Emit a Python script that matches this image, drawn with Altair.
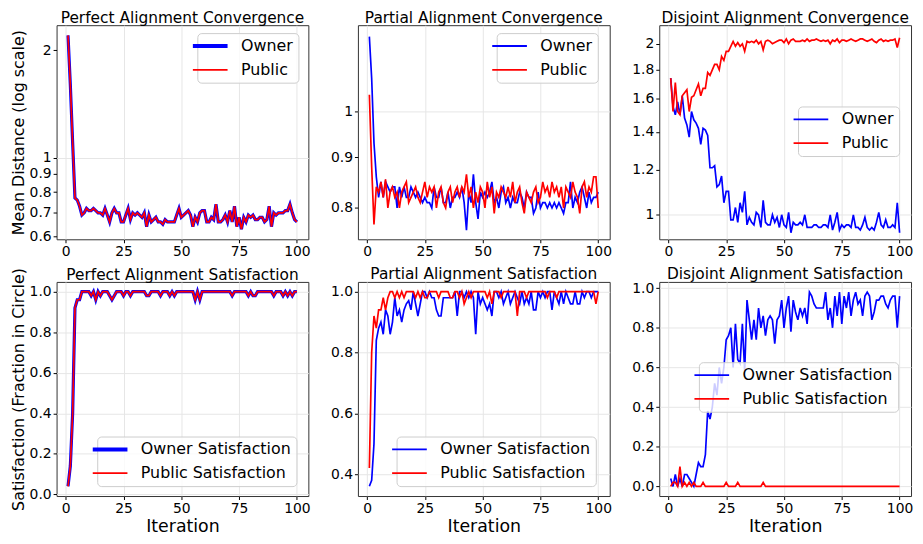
import altair as alt
import pandas as pd

iterations = list(range(1, 101))

# Perfect alignment: owner and public curves coincide
perfect_conv_owner = [
    2.20, 1.60, 1.10, 0.77, 0.76, 0.73, 0.69, 0.70, 0.72, 0.71,
    0.71, 0.72, 0.71, 0.70, 0.70, 0.69, 0.72, 0.69, 0.66, 0.70,
    0.72, 0.70, 0.70, 0.66, 0.66, 0.69, 0.72, 0.67, 0.70, 0.69,
    0.70, 0.69, 0.68, 0.70, 0.64, 0.69, 0.66, 0.67, 0.68, 0.66,
    0.66, 0.65, 0.67, 0.66, 0.66, 0.66, 0.66, 0.69, 0.72, 0.68,
    0.69, 0.70, 0.71, 0.69, 0.64, 0.68, 0.66, 0.70, 0.71, 0.71,
    0.66, 0.66, 0.68, 0.67, 0.74, 0.66, 0.66, 0.67, 0.69, 0.66,
    0.71, 0.66, 0.73, 0.64, 0.68, 0.63, 0.68, 0.66, 0.69, 0.68,
    0.69, 0.67, 0.67, 0.68, 0.68, 0.66, 0.67, 0.73, 0.64, 0.70,
    0.69, 0.70, 0.70, 0.70, 0.71, 0.71, 0.74, 0.70, 0.67, 0.66,
]
perfect_conv_public = [
    2.20, 1.60, 1.10, 0.77, 0.76, 0.73, 0.69, 0.70, 0.72, 0.71,
    0.71, 0.72, 0.71, 0.70, 0.70, 0.69, 0.72, 0.69, 0.66, 0.70,
    0.72, 0.70, 0.70, 0.66, 0.66, 0.69, 0.72, 0.67, 0.70, 0.69,
    0.70, 0.69, 0.68, 0.70, 0.64, 0.69, 0.66, 0.67, 0.68, 0.66,
    0.66, 0.65, 0.67, 0.66, 0.66, 0.66, 0.66, 0.69, 0.72, 0.68,
    0.69, 0.70, 0.71, 0.69, 0.64, 0.68, 0.66, 0.70, 0.71, 0.71,
    0.66, 0.66, 0.68, 0.67, 0.74, 0.66, 0.66, 0.67, 0.69, 0.66,
    0.71, 0.66, 0.73, 0.64, 0.68, 0.63, 0.68, 0.66, 0.69, 0.68,
    0.69, 0.67, 0.67, 0.68, 0.68, 0.66, 0.67, 0.73, 0.64, 0.70,
    0.69, 0.70, 0.70, 0.70, 0.71, 0.71, 0.74, 0.70, 0.67, 0.66,
]
partial_conv_owner = [
    1.19, 1.08, 0.93, 0.86, 0.82, 0.85, 0.82, 0.85, 0.84, 0.83,
    0.84, 0.84, 0.80, 0.84, 0.82, 0.84, 0.82, 0.82, 0.84, 0.83,
    0.82, 0.83, 0.82, 0.81, 0.82, 0.81, 0.81, 0.80, 0.84, 0.82,
    0.82, 0.84, 0.81, 0.81, 0.83, 0.80, 0.82, 0.82, 0.83, 0.82,
    0.84, 0.81, 0.76, 0.83, 0.81, 0.865, 0.81, 0.78, 0.83, 0.82,
    0.83, 0.82, 0.83, 0.85, 0.81, 0.82, 0.80, 0.83, 0.84, 0.81,
    0.82, 0.80, 0.82, 0.81, 0.81, 0.83, 0.82, 0.80, 0.83, 0.82,
    0.82, 0.79, 0.80, 0.83, 0.80, 0.81, 0.81, 0.80, 0.81, 0.80,
    0.81, 0.80, 0.81, 0.80, 0.79, 0.81, 0.81, 0.85, 0.80, 0.82,
    0.81, 0.83, 0.84, 0.82, 0.80, 0.83, 0.81, 0.82, 0.82, 0.83,
]
partial_conv_public = [
    1.04, 0.88, 0.77, 0.84, 0.83, 0.85, 0.82, 0.855, 0.80, 0.83,
    0.84, 0.82, 0.83, 0.80, 0.83, 0.84, 0.85, 0.81, 0.82, 0.83,
    0.84, 0.82, 0.81, 0.83, 0.85, 0.82, 0.84, 0.83, 0.84, 0.80,
    0.83, 0.84, 0.81, 0.80, 0.83, 0.84, 0.81, 0.83, 0.84, 0.82,
    0.84, 0.83, 0.865, 0.82, 0.84, 0.80, 0.83, 0.81, 0.84, 0.83,
    0.80, 0.85, 0.82, 0.84, 0.79, 0.83, 0.82, 0.84, 0.83, 0.82,
    0.84, 0.82, 0.85, 0.81, 0.83, 0.84, 0.81, 0.79, 0.83, 0.82,
    0.81, 0.83, 0.84, 0.81, 0.82, 0.85, 0.83, 0.84, 0.82, 0.85,
    0.83, 0.84, 0.82, 0.84, 0.80, 0.84, 0.83, 0.82, 0.85, 0.83,
    0.82, 0.79, 0.84, 0.85, 0.82, 0.84, 0.83, 0.86, 0.86, 0.80,
]
disjoint_conv_owner = [
    1.74, 1.55, 1.50, 1.58, 1.50, 1.62, 1.48, 1.44, 1.37, 1.52,
    1.47, 1.45, 1.42, 1.33, 1.42, 1.41, 1.38, 1.21, 1.21, 1.22,
    1.12, 1.13, 1.17, 1.05, 1.10, 1.10, 0.98, 0.98, 1.03, 0.97,
    1.05, 1.01, 1.10, 0.96, 0.99, 0.97, 0.96, 1.01, 1.00, 0.95,
    1.06, 0.97, 0.96, 0.96, 1.00, 0.97, 0.99, 0.95, 1.00, 0.96,
    0.95, 1.01, 0.93, 0.97, 0.96, 0.96, 0.97, 0.96, 1.00, 0.95,
    0.95, 0.95, 0.96, 0.96, 0.95, 0.95, 0.96, 0.96, 0.95, 1.00,
    0.94, 0.97, 1.01, 0.94, 0.96, 0.95, 0.96, 0.96, 0.95, 1.00,
    0.95, 0.95, 0.94, 0.96, 0.99, 0.95, 0.94, 0.95, 0.94, 0.97,
    1.01, 0.96, 0.95, 0.98, 0.95, 0.95, 0.96, 0.95, 1.05, 0.93,
]
disjoint_conv_public = [
    1.74, 1.52, 1.71, 1.52, 1.50, 1.62, 1.64, 1.66, 1.52, 1.61,
    1.62, 1.66, 1.70, 1.62, 1.67, 1.67, 1.78, 1.76, 1.80, 1.84,
    1.84, 1.80, 1.90, 1.87, 1.94, 1.94, 1.98, 2.02, 1.98, 2.01,
    1.98, 2.00, 1.94, 2.02, 2.01, 2.02, 2.01, 2.03, 2.00, 2.02,
    1.95, 2.02, 2.03, 2.02, 2.00, 2.01, 2.02, 2.03, 2.03, 2.01,
    2.04, 2.00, 2.03, 2.04, 2.02, 2.02, 2.02, 2.03, 2.02, 2.04,
    2.02, 2.03, 2.03, 2.04, 2.03, 2.02, 2.03, 2.02, 2.03, 2.00,
    2.03, 2.02, 2.04, 2.01, 2.03, 2.03, 2.02, 2.03, 2.04, 2.03,
    2.02, 2.03, 2.04, 2.04, 2.03, 2.02, 2.03, 2.04, 2.02, 2.01,
    2.03, 2.04, 2.02, 2.03, 2.02, 2.03, 2.03, 2.04, 1.97, 2.05,
]
perfect_sat_owner = [
    0.04, 0.14, 0.40, 0.92, 0.96, 0.96, 1.00, 1.00, 1.00, 1.00,
    0.98, 1.00, 0.96, 1.00, 0.98, 1.00, 1.00, 1.00, 0.98, 0.96,
    0.98, 1.00, 1.00, 1.00, 0.98, 1.00, 1.00, 0.98, 1.00, 1.00,
    1.00, 1.00, 1.00, 1.00, 0.98, 0.98, 1.00, 1.00, 1.00, 1.00,
    0.98, 1.00, 1.00, 1.00, 0.98, 1.00, 0.98, 1.00, 1.00, 1.00,
    1.00, 1.00, 1.00, 1.00, 1.00, 0.96, 1.00, 0.96, 1.00, 1.00,
    1.00, 1.00, 1.00, 1.00, 1.00, 1.00, 1.00, 1.00, 1.00, 1.00,
    1.00, 0.98, 1.00, 1.00, 1.00, 1.00, 1.00, 1.00, 0.98, 1.00,
    0.98, 0.98, 1.00, 1.00, 1.00, 1.00, 1.00, 1.00, 1.00, 0.98,
    1.00, 1.00, 1.00, 0.98, 1.00, 0.98, 1.00, 0.98, 1.00, 1.00,
]
perfect_sat_public = [
    0.04, 0.14, 0.40, 0.92, 0.96, 0.96, 1.00, 1.00, 1.00, 1.00,
    0.98, 1.00, 0.96, 1.00, 0.98, 1.00, 1.00, 1.00, 0.98, 0.96,
    0.98, 1.00, 1.00, 1.00, 0.98, 1.00, 1.00, 0.98, 1.00, 1.00,
    1.00, 1.00, 1.00, 1.00, 0.98, 0.98, 1.00, 1.00, 1.00, 1.00,
    0.98, 1.00, 1.00, 1.00, 0.98, 1.00, 0.98, 1.00, 1.00, 1.00,
    1.00, 1.00, 1.00, 1.00, 1.00, 0.96, 1.00, 0.96, 1.00, 1.00,
    1.00, 1.00, 1.00, 1.00, 1.00, 1.00, 1.00, 1.00, 1.00, 1.00,
    1.00, 0.98, 1.00, 1.00, 1.00, 1.00, 1.00, 1.00, 0.98, 1.00,
    0.98, 0.98, 1.00, 1.00, 1.00, 1.00, 1.00, 1.00, 1.00, 0.98,
    1.00, 1.00, 1.00, 0.98, 1.00, 0.98, 1.00, 0.98, 1.00, 1.00,
]
partial_sat_owner = [
    0.36, 0.38, 0.50, 0.84, 0.88, 0.90, 0.86, 0.94, 0.92, 0.86,
    0.90, 0.98, 0.92, 0.94, 0.90, 0.94, 0.96, 0.97, 0.94, 1.00,
    0.96, 0.92, 0.96, 1.00, 1.00, 0.98, 1.00, 0.98, 0.98, 0.94,
    0.92, 0.92, 0.98, 0.98, 0.98, 0.98, 0.98, 1.00, 0.92, 1.00,
    1.00, 0.98, 1.00, 0.98, 1.00, 0.98, 0.86, 1.00, 0.96, 0.98,
    0.96, 0.94, 0.96, 0.92, 1.00, 1.00, 0.98, 1.00, 0.96, 0.98,
    1.00, 0.96, 0.98, 1.00, 0.98, 0.96, 1.00, 0.96, 0.98, 0.96,
    1.00, 0.94, 0.94, 1.00, 0.98, 1.00, 0.98, 1.00, 1.00, 0.94,
    1.00, 0.98, 0.96, 1.00, 0.96, 1.00, 0.98, 0.96, 0.96, 1.00,
    0.96, 0.96, 1.00, 0.98, 1.00, 1.00, 0.98, 1.00, 1.00, 1.00,
]
partial_sat_public = [
    0.42, 0.80, 0.92, 0.88, 0.94, 0.94, 0.98, 0.94, 0.98, 1.00,
    1.00, 0.98, 1.00, 0.98, 1.00, 0.98, 1.00, 1.00, 1.00, 1.00,
    0.98, 1.00, 0.98, 1.00, 0.98, 0.98, 1.00, 1.00, 1.00, 1.00,
    0.98, 1.00, 1.00, 1.00, 1.00, 0.98, 0.98, 1.00, 1.00, 0.98,
    1.00, 0.96, 0.98, 1.00, 0.98, 1.00, 1.00, 1.00, 1.00, 1.00,
    1.00, 0.98, 1.00, 0.96, 1.00, 1.00, 1.00, 0.98, 1.00, 1.00,
    1.00, 1.00, 1.00, 1.00, 0.92, 1.00, 1.00, 1.00, 0.98, 1.00,
    1.00, 1.00, 1.00, 1.00, 1.00, 1.00, 1.00, 0.98, 1.00, 1.00,
    1.00, 0.98, 1.00, 1.00, 1.00, 1.00, 1.00, 1.00, 1.00, 1.00,
    1.00, 1.00, 1.00, 1.00, 1.00, 1.00, 1.00, 1.00, 0.96, 1.00,
]
disjoint_sat_owner = [
    0.04, 0.00, 0.06, 0.00, 0.04, 0.00, 0.06, 0.06, 0.04, 0.02,
    0.00, 0.06, 0.12, 0.10, 0.10, 0.16, 0.38, 0.34, 0.40, 0.52,
    0.46, 0.60, 0.52, 0.60, 0.74, 0.76, 0.80, 0.60, 0.82, 0.64,
    0.62, 0.82, 0.58, 0.94, 0.84, 0.74, 0.84, 0.74, 0.90, 0.80,
    0.86, 0.76, 0.84, 0.86, 0.84, 0.72, 0.84, 0.86, 0.94, 0.80,
    0.90, 0.96, 0.78, 0.94, 0.88, 0.84, 0.90, 0.86, 0.90, 0.82,
    0.98, 0.96, 0.92, 0.90, 0.90, 0.90, 0.90, 0.98, 0.84, 0.90,
    0.80, 0.96, 0.86, 0.98, 0.82, 0.96, 0.90, 0.98, 0.86, 0.94,
    0.98, 0.92, 0.94, 0.86, 0.96, 0.98, 0.96, 0.84, 0.88, 0.94,
    0.94, 0.96, 0.96, 0.92, 0.90, 0.94, 0.96, 0.96, 0.80, 0.96,
]
disjoint_sat_public = [
    0.00, 0.02, 0.02, 0.00, 0.10, 0.00, 0.02, 0.00, 0.02, 0.00,
    0.02, 0.00, 0.00, 0.00, 0.02, 0.00, 0.00, 0.00, 0.00, 0.00,
    0.00, 0.00, 0.00, 0.00, 0.02, 0.00, 0.00, 0.00, 0.00, 0.02,
    0.00, 0.00, 0.00, 0.00, 0.00, 0.00, 0.00, 0.00, 0.00, 0.00,
    0.02, 0.00, 0.00, 0.00, 0.00, 0.00, 0.00, 0.00, 0.00, 0.00,
    0.00, 0.00, 0.00, 0.00, 0.00, 0.00, 0.00, 0.00, 0.00, 0.00,
    0.00, 0.00, 0.00, 0.00, 0.00, 0.00, 0.00, 0.00, 0.00, 0.00,
    0.00, 0.00, 0.00, 0.00, 0.00, 0.00, 0.00, 0.00, 0.00, 0.00,
    0.00, 0.00, 0.00, 0.00, 0.00, 0.00, 0.00, 0.00, 0.00, 0.00,
    0.00, 0.00, 0.00, 0.00, 0.00, 0.00, 0.00, 0.00, 0.00, 0.00,
]

conv_names = ["Owner", "Public"]
sat_names = ["Owner Satisfaction", "Public Satisfaction"]
x_ticks = [0, 25, 50, 75, 100]
ticks_p1 = [0.6, 0.7, 0.8, 0.9, 1, 2]
ticks_p2 = [0.8, 0.9, 1]
ticks_p3 = [1, 1.2, 1.4, 1.6, 1.8, 2]
ticks_sat1 = [0.0, 0.2, 0.4, 0.6, 0.8, 1.0]
ticks_sat2 = [0.4, 0.6, 0.8, 1.0]

FONT = "DejaVu Sans"
BLUE = "#0000ff"
RED = "#ff0000"
W, H = 254, 216
TITLE_DY = 2


def panel(title, owner, public, names, log, y_domain, y_ticks, y_format,
          y_title, x_title, legend_xy, thick, title_dy=TITLE_DY):
    df = pd.DataFrame({
        "Iteration": iterations + iterations,
        "value": owner + public,
        "series": [names[0]] * len(owner) + [names[1]] * len(public),
    })
    if log:
        grid_op = {"condition": {"test": "datum.value === 1", "value": 1}, "value": 0}
        yscale = alt.Scale(type="log", domain=y_domain, nice=False, zero=False)
    else:
        grid_op = 1
        yscale = alt.Scale(domain=y_domain, nice=False, zero=False)
    owner_w = 3.2 if thick else 1.7
    legend = alt.Legend(
        title=None, orient="none", legendX=legend_xy[0], legendY=legend_xy[1],
        symbolType="stroke", symbolSize=1225,
        symbolStrokeWidth=alt.ExprRef(
            "datum.value === '%s' ? %s : 1.8" % (names[0], 4 if thick else 1.8)),
        labelFontSize=16, labelFont=FONT, labelColor="black", labelOffset=23,
        fillColor="rgba(255,255,255,0.8)", strokeColor="#cccccc",
        cornerRadius=4, padding=5, rowPadding=8,
    )
    chart = alt.Chart(df).mark_line(clip=True).encode(
        x=alt.X("Iteration:Q",
                scale=alt.Scale(domain=[-3.95, 104.95], nice=False, zero=False),
                axis=alt.Axis(values=x_ticks, title=x_title, titleFontSize=17.5,
                              titlePadding=2)),
        y=alt.Y("value:Q", scale=yscale,
                axis=alt.Axis(values=y_ticks, format=y_format, title=y_title,
                              gridOpacity=grid_op, titleFontSize=16)),
        color=alt.Color("series:N", scale=alt.Scale(domain=names, range=[BLUE, RED]),
                        legend=legend),
        strokeWidth=alt.condition("datum.series === '%s'" % names[0],
                                  alt.value(owner_w), alt.value(1.7)),
    ).properties(
        width=W, height=H,
        title=alt.TitleParams(title, fontSize=15.5, font=FONT, fontWeight="normal",
                              color="black", offset=1, dy=title_dy),
    )
    return chart


p1 = panel("Perfect Alignment Convergence", perfect_conv_owner, perfect_conv_public,
           conv_names, True, [0.59, 2.35], ticks_p1, "~g",
           "Mean Distance (log scale)", None, (142, 8), True)
p2 = panel("Partial Alignment Convergence", partial_conv_owner, partial_conv_public,
           conv_names, True, [0.744, 1.222], ticks_p2, "~g", None, None, (140, 8), False)
p3 = panel("Disjoint Alignment Convergence", disjoint_conv_owner, disjoint_conv_public,
           conv_names, True, [0.9055, 2.157], ticks_p3, "~g", None, None, (140, 82), False)
p4 = panel("Perfect Alignment Satisfaction", perfect_sat_owner, perfect_sat_public,
           sat_names, False, [-0.008, 1.048], ticks_sat1, ".1f",
           "Satisfaction (Fraction in Circle)", "Iteration", (41, 156), True,
           title_dy=TITLE_DY + 15.3)
p5 = panel("Partial Alignment Satisfaction", partial_sat_owner, partial_sat_public,
           sat_names, False, [0.328, 1.032], ticks_sat2, ".1f", None, "Iteration",
           (39, 156), False)
p6 = panel("Disjoint Alignment Satisfaction", disjoint_sat_owner, disjoint_sat_public,
           sat_names, False, [-0.0485, 1.0315], ticks_sat1, ".1f", None, "Iteration",
           (40, 81), False)

chart = alt.concat(
    p1, p2, p3, p4, p5, p6, columns=3,
    spacing={"row": 43, "column": 50}, bounds="flush",
).resolve_scale(
    x="independent", y="independent", color="independent"
).resolve_legend(color="independent").properties(
    autosize=alt.AutoSizeParams(type="none"),
    padding={"left": 49, "top": 15, "right": 866, "bottom": 513},
    background="white",
).configure_view(
    stroke="#333333", strokeWidth=1,
).configure_axis(
    domain=False, grid=True, gridColor="#e6e6e6", gridWidth=1,
    ticks=True, tickSize=3.5, tickColor="black", tickWidth=1,
    labelFont=FONT, labelFontSize=14, labelColor="black", labelPadding=2,
    titleFont=FONT, titleColor="black", titleFontWeight="normal", titlePadding=3,
    labelFlush=False, labelOverlap=False,
)

chart.save("out.html", embed_options={"renderer": "svg", "actions": False})
